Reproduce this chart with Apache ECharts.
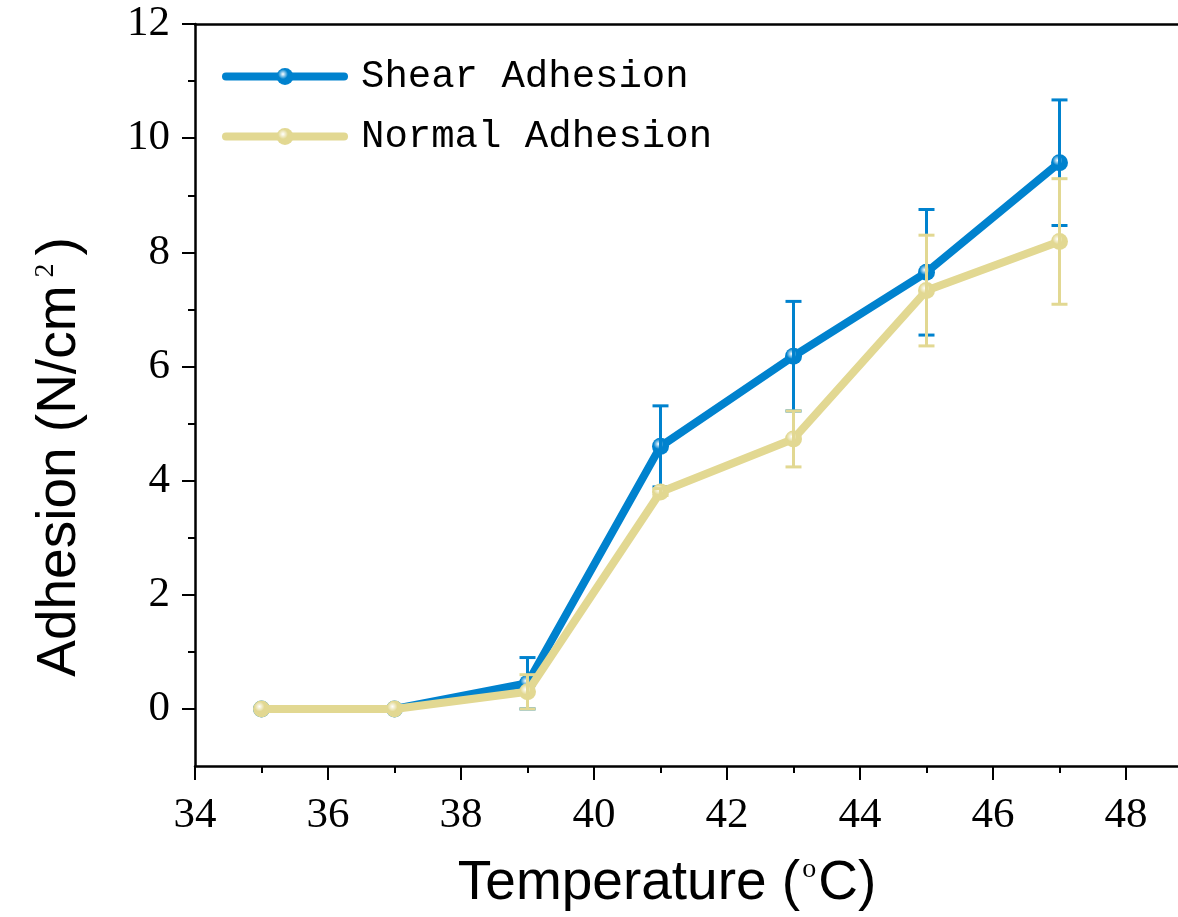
<!DOCTYPE html>
<html>
<head>
<meta charset="utf-8">
<script src="https://cdn.jsdelivr.net/npm/echarts@6/dist/echarts.min.js"></script>
<style>html,body{margin:0;padding:0;background:#fff}#c{width:1178px;height:917px}</style>
</head>
<body>
<div id="c"></div>
<script>
// ---- data ----
const temperatures = [35, 37, 39, 41, 43, 45, 47];
const shearMean = [0, 0, 0.45, 4.6, 6.18, 7.65, 9.57];
const shearErr = [0, 0, 0.45, 0.71, 0.96, 1.1, 1.1];
const normalMean = [0, 0, 0.3, 3.8, 4.73, 7.33, 8.19];
const normalErr = [0, 0, 0.3, 0.06, 0.49, 0.97, 1.1];
const seriesNames = ['Shear Adhesion', 'Normal Adhesion'];
const xTickLabels = [34, 36, 38, 40, 42, 44, 46, 48];
const yTickLabels = [0, 2, 4, 6, 8, 10, 12];

const BLUE = '#0082CE';
const KHAKI = '#E2D892';

function ballColor(c) {
  return {
    type: 'radial', x: 0.38, y: 0.36, r: 0.65,
    colorStops: [{offset: 0, color: '#ffffff'}, {offset: 0.45, color: c}, {offset: 1, color: c}]
  };
}
function pairs(xs, ys) { return xs.map((x, i) => [x, ys[i]]); }
function errData(xs, m, e) {
  return xs.map((x, i) => [x, m[i] - e[i], m[i] + e[i], e[i]]).filter(d => d[3] > 0);
}
function errRender(color) {
  return function (params, api) {
    const x = api.value(0), lo = api.value(1), hi = api.value(2);
    const pLo = api.coord([x, lo]);
    const pHi = api.coord([x, hi]);
    const hw = 8;
    const style = {stroke: color, lineWidth: 3, lineCap: 'butt'};
    return {
      type: 'group',
      children: [
        {type: 'line', shape: {x1: pLo[0], y1: pLo[1], x2: pHi[0], y2: pHi[1]}, style: style},
        {type: 'line', shape: {x1: pLo[0] - hw, y1: pLo[1], x2: pLo[0] + hw, y2: pLo[1]}, style: style},
        {type: 'line', shape: {x1: pHi[0] - hw, y1: pHi[1], x2: pHi[0] + hw, y2: pHi[1]}, style: style}
      ]
    };
  };
}

const chart = echarts.init(document.getElementById('c'), null, {renderer: 'canvas'});
const labelFont = 'Liberation Serif';
const option = {
  animation: false,
  backgroundColor: '#fff',
  grid: [
    {left: 195, top: 24, width: 1064, bottom: 151, outerBoundsMode: 'none', containLabel: false},
    {left: 195, top: 24, width: 1064, bottom: 208, outerBoundsMode: 'none', containLabel: false}
  ],
  legend: {
    data: seriesNames,
    orient: 'vertical',
    left: 222, top: 57, padding: 0,
    itemWidth: 118, itemHeight: 21, itemGap: 21,
    lineStyle: {width: 8, cap: 'round'},
    textStyle: {fontFamily: 'Liberation Mono', fontSize: 39, color: '#000', padding: [0, 0, 0, 12]}
  },
  xAxis: [
    {
      gridIndex: 0, type: 'value', position: 'bottom',
      min: 34, max: 50, interval: 2,
      axisLine: {show: true, onZero: false, lineStyle: {color: '#000', width: 2.5}},
      axisTick: {show: true, inside: false, length: 14, lineStyle: {color: '#000', width: 2}},
      minorTick: {show: true, splitNumber: 2, length: 7, lineStyle: {color: '#000', width: 2}},
      splitLine: {show: false}, minorSplitLine: {show: false},
      axisLabel: {
        margin: 28, fontFamily: labelFont, fontSize: 43, color: '#000',
        formatter: v => (xTickLabels.indexOf(v) >= 0 ? String(v) : '')
      },
      name: 'Temperature ({s|o}C)',
      nameLocation: 'middle', nameGap: 90,
      nameTextStyle: {
        fontFamily: 'Liberation Sans', fontSize: 55, color: '#000',
        padding: [0, 120, 0, 0],
        rich: {s: {fontFamily: 'Liberation Serif', fontSize: 28, color: '#000', verticalAlign: 'top', padding: [0, 2, 0, 2]}}
      }
    },
    {
      gridIndex: 0, type: 'value', position: 'top',
      min: 34, max: 50, interval: 2,
      axisLine: {show: true, onZero: false, lineStyle: {color: '#000', width: 2.5}},
      axisTick: {show: false}, axisLabel: {show: false}, splitLine: {show: false}
    },
    {
      gridIndex: 1, type: 'value', show: false, min: 34, max: 50, interval: 2
    }
  ],
  yAxis: [
    {
      gridIndex: 0, type: 'value', min: -1, max: 12,
      axisLine: {show: true, onZero: false, lineStyle: {color: '#000', width: 2.5}},
      axisTick: {show: false}, axisLabel: {show: false}, splitLine: {show: false},
      name: 'Adhesion (N/cm{s|2})',
      nameLocation: 'middle', nameGap: 108,
      nameTextStyle: {
        fontFamily: 'Liberation Sans', fontSize: 55, color: '#000',
        padding: [0, 124, 0, 0],
        rich: {s: {fontFamily: 'Liberation Serif', fontSize: 28, color: '#000', verticalAlign: 'top', padding: [0, 8, 0, 8]}}
      }
    },
    {
      gridIndex: 1, type: 'value', min: 0, max: 12, interval: 2,
      axisLine: {show: false},
      axisTick: {show: true, inside: false, length: 13, lineStyle: {color: '#000', width: 2}},
      minorTick: {show: true, splitNumber: 2, length: 7, lineStyle: {color: '#000', width: 2}},
      splitLine: {show: false}, minorSplitLine: {show: false},
      axisLabel: {
        margin: 25, fontFamily: labelFont, fontSize: 43, color: '#000',
        formatter: v => (yTickLabels.indexOf(v) >= 0 ? String(v) : '')
      }
    }
  ],
  series: [
    {
      name: seriesNames[0], type: 'line', xAxisIndex: 0, yAxisIndex: 0,
      data: pairs(temperatures, shearMean),
      symbol: 'circle', symbolSize: 17, z: 3,
      lineStyle: {color: BLUE, width: 8},
      itemStyle: {color: ballColor(BLUE), borderWidth: 0}
    },
    {
      name: 'shear-err', type: 'custom', xAxisIndex: 0, yAxisIndex: 0,
      data: errData(temperatures, shearMean, shearErr),
      renderItem: errRender(BLUE), z: 4, silent: true
    },
    {
      name: seriesNames[1], type: 'line', xAxisIndex: 0, yAxisIndex: 0,
      data: pairs(temperatures, normalMean),
      symbol: 'circle', symbolSize: 17, z: 5,
      lineStyle: {color: KHAKI, width: 8},
      itemStyle: {color: ballColor(KHAKI), borderWidth: 0}
    },
    {
      name: 'normal-err', type: 'custom', xAxisIndex: 0, yAxisIndex: 0,
      data: errData(temperatures, normalMean, normalErr),
      renderItem: errRender(KHAKI), z: 6, silent: true
    }
  ]
};
chart.setOption(option);
</script>
</body>
</html>
